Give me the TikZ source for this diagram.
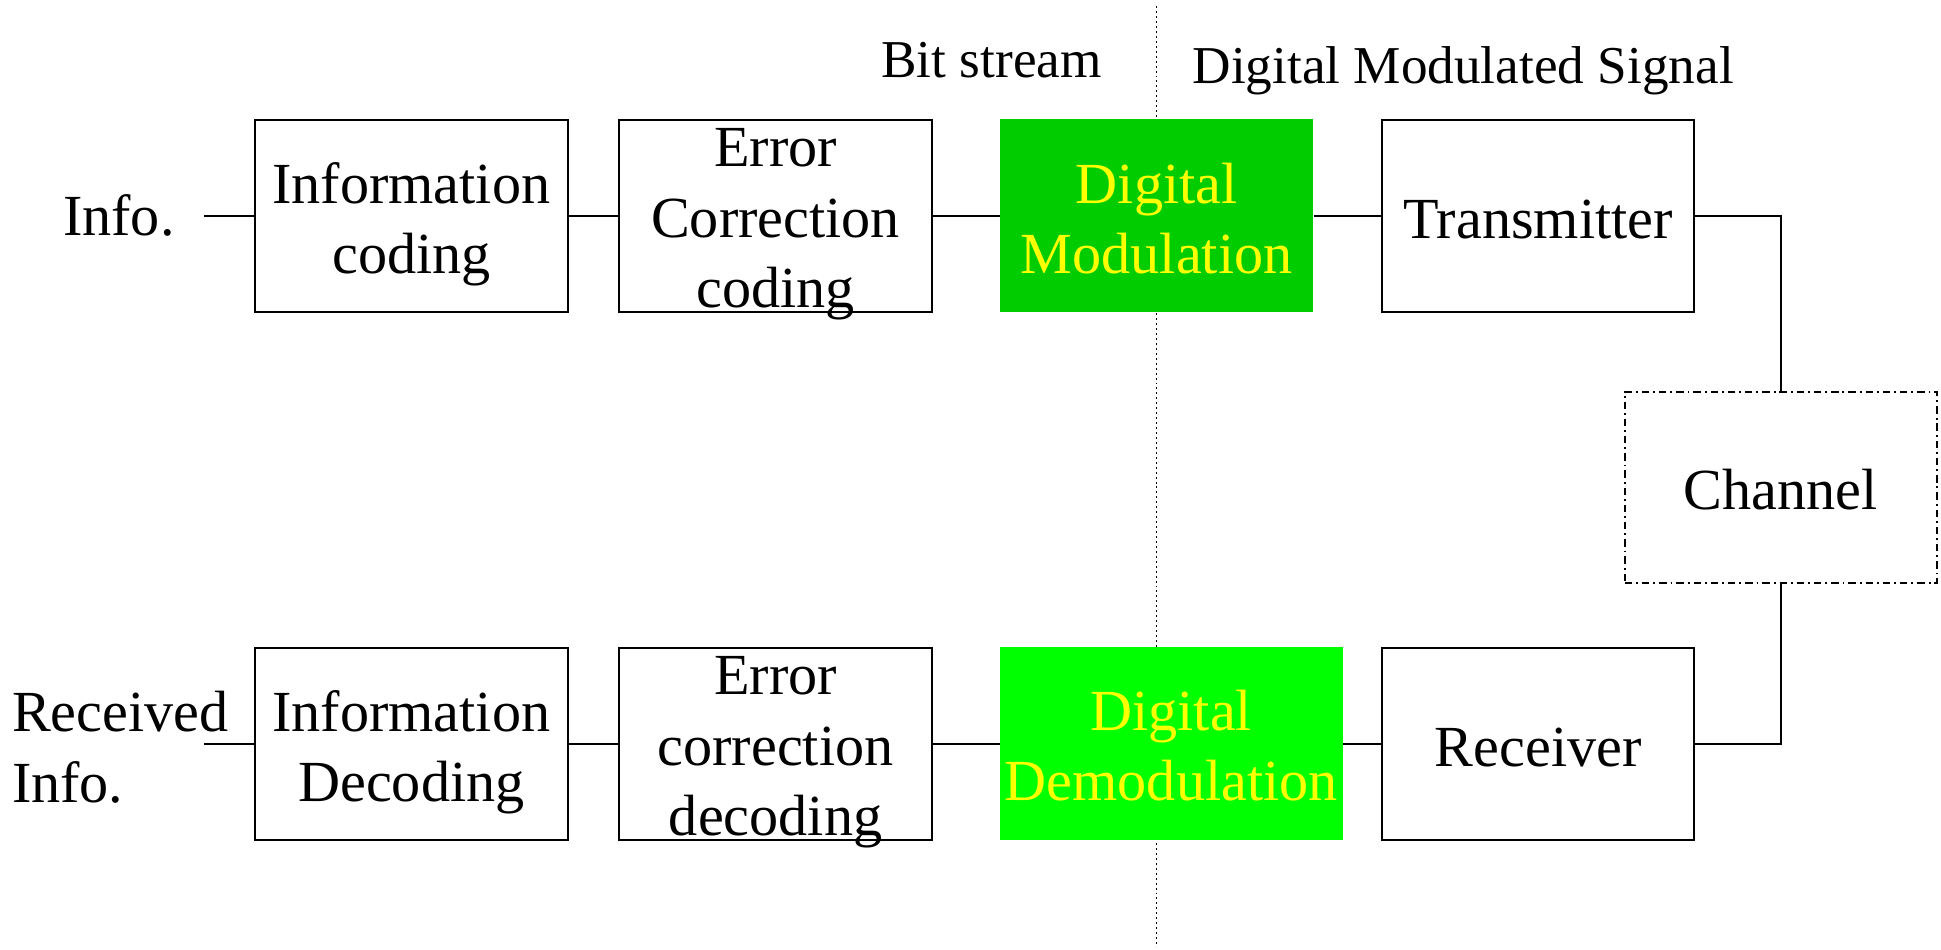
\documentclass[tikz,border=0pt]{standalone}
\usepackage{fontspec}
\setmainfont{Liberation Serif}
\newcommand\blockfont{\fontsize{47}{57}\selectfont}
\newcommand\notefont{\fontsize{43}{52}\selectfont}
\definecolor{modgreen}{HTML}{00CC00}
\definecolor{demodgreen}{HTML}{00FF00}
\definecolor{labelyellow}{HTML}{FFFF00}
\begin{document}
\begin{tikzpicture}[x=1pt,y=-1pt,
  wire/.style={line width=1.6pt},
  divider/.style={line width=0.8pt, dash pattern=on 1.6pt off 2.4pt},
  frame/.style={draw, line width=1.6pt, minimum width=252.5pt, minimum height=155pt, inner sep=0pt},
  chanframe/.style={frame, dash pattern=on 6pt off 3.2pt on 1.5pt off 3.2pt},
  modbox/.style={fill=#1, draw=none, minimum height=156pt, inner sep=0pt},
  txt/.style={font=\blockfont, align=center, inner sep=0pt},
  modtxt/.style={txt, text=labelyellow},
  note/.style={font=\notefont, inner sep=0pt},
]
\useasboundingbox (0,0) rectangle (1568,767);

% dotted divider between baseband and modulated parts
\coordinate (divtop) at (934.5,5);
\coordinate (divbot) at (934.5,765);
\draw[divider] (divtop) -- (divbot);

% transmit chain
\node[frame] (icod) at (332.3,174.2) {};
\node[frame] (ecc) at (626.5,174.2) {};
\node[modbox=modgreen, minimum width=253.3pt] (mod) at (934.4,174.2) {};
\node[frame] (tx) at (1242.5,174.2) {};

% channel
\node[chanframe, minimum width=252.2pt, minimum height=154.8pt] (chan) at (1438.6,393.8) {};

% receive chain
\node[frame] (rx) at (1242.5,600.7) {};
\node[modbox=demodgreen, minimum width=276.8pt, minimum height=155.7pt] (demod) at (946.1,600.7) {};
\node[frame] (ecd) at (626.5,600.7) {};
\node[frame] (idec) at (332.3,600.7) {};

% block texts
\node[txt] (icod-t) at ([yshift=-7pt]icod.center) {Information\\coding};
\node[txt] (ecc-t) at ([yshift=-7pt]ecc.center) {Error\\Correction\\coding};
\node[modtxt] (mod-t) at ([yshift=-2.5pt]mod.center) {Digital\\Modulation};
\node[txt] (tx-t) at ([yshift=-3pt]tx.center) {Transmitter};
\node[txt] (chan-t) at ([yshift=-2pt]chan.center) {Channel};
\node[txt] (rx-t) at ([yshift=-3pt]rx.center) {Receiver};
\node[modtxt] (demod-t) at ([yshift=-1.5pt]demod.center) {Digital\\Demodulation};
\node[txt] (ecd-t) at ([yshift=-7pt]ecd.center) {Error\\correction\\decoding};
\node[txt] (idec-t) at ([yshift=-7pt]idec.center) {Information\\Decoding};

% source and sink
\node[txt] (src) at (96,174) {Info.};
\node[txt, anchor=west, align=left] (sink) at (9.5,603.5) {Received\\Info.};
\coordinate (instart) at (165,174.2);
\coordinate (outend) at (165,600.7);

% signal labels
\node[note] (bits) at (801,48.5) {Bit stream};
\node[note] (dms) at (1182,57.5) {Digital Modulated Signal};

% connectors
\draw[wire] (instart) -- (icod.west);
\draw[wire] (icod.east) -- (ecc.west);
\draw[wire] (ecc.east) -- (mod.west);
\draw[wire] (mod.east) -- (tx.west);
\draw[wire] (tx.east) -| (chan.north);
\draw[wire] (chan.south) |- (rx.east);
\draw[wire] (rx.west) -- (demod.east);
\draw[wire] (demod.west) -- (ecd.east);
\draw[wire] (ecd.west) -- (idec.east);
\draw[wire] (idec.west) -- (outend);
\end{tikzpicture}
\end{document}
